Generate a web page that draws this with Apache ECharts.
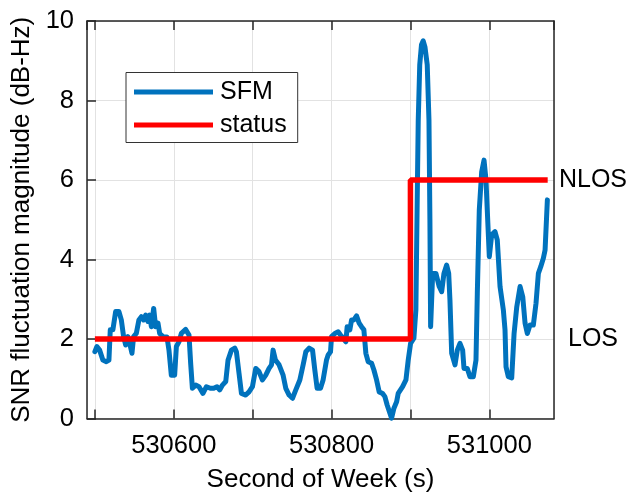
<!DOCTYPE html>
<html>
<head>
<meta charset="utf-8">
<script src="https://cdn.jsdelivr.net/npm/echarts@6.0.0/dist/echarts.min.js"></script>
<style>
html,body{margin:0;padding:0;background:#fff;}
#chart{width:630px;height:492px;}
</style>
</head>
<body>
<div id="chart"></div>
<script>
// ---- data ----
var sfmTime = [530500, 530502.5, 530506, 530510.1, 530514.5, 530517.8, 530519.5, 530522.8, 530526.3, 530530.5,
  530533.5, 530536.4, 530539, 530541.9, 530544, 530547, 530549.1, 530552.5, 530555.8, 530558.9,
  530561.8, 530564.3, 530567.3, 530569.4, 530571.6, 530574.5, 530577, 530580, 530582.1, 530586.3,
  530591.4, 530593.9, 530596.9, 530601.1, 530603.3, 530606.6, 530609.6, 530615.1, 530619.3, 530621.4,
  530623.6, 530627.8, 530632, 530637, 530641.4, 530646.4, 530650.6, 530654.8, 530658.2, 530661.7,
  530665.9, 530668.8, 530673.1, 530677.3, 530679.4, 530682.7, 530685.8, 530691.2, 530695.4, 530699.7,
  530703.9, 530708.1, 530712.4, 530716.6, 530720.8, 530723.9, 530725.9, 530728.9, 530733.5, 530738.6,
  530742, 530746.2, 530750.5, 530754.7, 530759.8, 530764, 530767.4, 530771.6, 530775.9, 530778.8,
  530781.7, 530786, 530789.3, 530793.6, 530795.7, 530798.7, 530800, 530804.2, 530808.4, 530811.4,
  530814.7, 530818.1, 530819.8, 530823.2, 530825.4, 530828.3, 530831.7, 530835, 530838, 530841,
  530843.5, 530846.4, 530850.8, 530853.7, 530857.1, 530860.4, 530864.7, 530867.6, 530870.5, 530874,
  530876.1, 530879.1, 530882.5, 530884.5, 530890.1, 530894.3, 530897.2, 530900.2, 530904.4, 530906.9,
  530908.6, 530909.9, 530911.8, 530914, 530916.2, 530918.4, 530921.3, 530923.5, 530924.7, 530925.6,
  530928.2, 530932.3, 530936.5, 530939.6, 530942.5, 530945.9, 530948.5, 530950.1, 530952.3, 530956.5,
  530959.4, 530962.8, 530966.2, 530967.9, 530972.1, 530975.5, 530979.7, 530983.1, 530984.8, 530987.3,
  530990.3, 530993.3, 530995.8, 530997.4, 531000, 531003, 531007.2, 531010.1, 531013.6, 531017.8,
  531019.9, 531021.2, 531024.1, 531028.4, 531031.4, 531034.8, 531039, 531042.4, 531045.3, 531048.2,
  531051.6, 531055.8, 531059.2, 531062.2, 531065.2, 531068.5, 531070.7, 531073.6];
var sfmValue = [1.68, 1.81, 1.72, 1.47, 1.43, 1.47, 2.23, 2.23, 2.69, 2.69,
  2.48, 2.06, 1.85, 2.06, 1.9, 1.64, 2.06, 2.14, 2.48, 2.56,
  2.48, 2.6, 2.44, 2.6, 2.31, 2.77, 2.31, 2.4, 2.14, 2.06,
  2.05, 1.72, 1.09, 1.09, 1.81, 1.93, 2.14, 2.24, 2.1, 1.39,
  0.76, 0.84, 0.8, 0.63, 0.8, 0.76, 0.76, 0.8, 0.72, 0.84,
  0.93, 1.47, 1.72, 1.77, 1.68, 1.14, 0.63, 0.59, 0.67, 0.8,
  1.26, 1.18, 0.97, 1.09, 1.26, 1.35, 1.72, 1.47, 1.35, 1.09,
  0.76, 0.59, 0.51, 0.72, 0.97, 1.35, 1.68, 1.77, 1.72, 1.22,
  0.76, 0.76, 0.97, 1.47, 1.6, 1.68, 2.06, 2.14, 2.18, 2.1,
  2.02, 1.93, 2.31, 2.23, 2.48, 2.48, 2.58, 2.4, 2.31, 2.23,
  1.64, 1.43, 1.39, 1.22, 0.97, 0.67, 0.63, 0.55, 0.34, 0.13,
  0.01, 0.26, 0.42, 0.63, 0.8, 0.97, 1.47, 1.89, 2.02, 2.73,
  5.5, 7.5, 8.9, 9.4, 9.5, 9.35, 8.9, 7.5, 5.0, 2.31,
  3.65, 3.65, 3.32, 3.19, 3.65, 3.86, 3.65, 2.98, 1.64, 1.35,
  1.72, 1.89, 1.72, 1.26, 1.26, 1.05, 1.05, 1.47, 3.15, 5.25,
  6.2, 6.5, 6.0, 5.25, 4.07, 4.62, 4.7, 4.49, 3.32, 2.73,
  2.23, 1.3, 1.05, 1.02, 2.14, 2.81, 3.32, 3.06, 2.4, 2.14,
  2.35, 2.35, 2.9, 3.65, 3.82, 4.03, 4.24, 5.5];
var statusTime = [530500, 530900, 530900, 531074];
var statusValue = [2, 2, 6, 6];
var xTickLabels = [530600, 530800, 531000];
var yRightLabels = {2: 'LOS', 6: 'NLOS'};
var seriesNames = ['SFM', 'status'];
var xTitle = 'Second of Week (s)';
var yTitle = 'SNR fluctuation magnitude (dB-Hz)';

// ---- build ----
function zip(a, b) {
  var out = [];
  var n = Math.min(a.length, b.length);
  for (var i = 0; i < n; i++) out.push([a[i], b[i]]);
  return out;
}
var FONT = "'Liberation Sans', Arial, sans-serif";
var INK = '#262626';
var xMin = 530490, xMax = 531082;

var chart = echarts.init(document.getElementById('chart'), null, {renderer: 'canvas'});
chart.setOption({
  animation: false,
  backgroundColor: '#fff',
  textStyle: {fontFamily: FONT},
  grid: {left: 87, right: 76, top: 21, bottom: 73.5, containLabel: false, outerBoundsMode: 'none'},
  legend: {
    left: 126, top: 72.5, orient: 'vertical',
    data: [{name: seriesNames[0], icon: 'rect'}, {name: seriesNames[1], icon: 'rect'}],
    itemWidth: 79, itemHeight: 5, itemGap: 8,
    padding: [7, 11, 5, 8],
    backgroundColor: '#fff', borderColor: '#333', borderWidth: 1,
    selectedMode: false,
    textStyle: {fontSize: 25, color: '#000', fontFamily: FONT, padding: [0, 0, 0, 2]}
  },
  xAxis: [{
    type: 'value', position: 'bottom', min: xMin, max: xMax, splitNumber: 6,
    axisLine: {show: true, onZero: false, lineStyle: {color: INK, width: 1.5}},
    axisTick: {show: true, inside: true, length: 9, lineStyle: {color: INK, width: 1.5}},
    axisLabel: {
      show: true, margin: 14, fontSize: 25.5, color: '#000', fontFamily: FONT,
      showMinLabel: false, showMaxLabel: false,
      formatter: function (v) { return xTickLabels.indexOf(Math.round(v)) >= 0 ? String(Math.round(v)) : ''; }
    },
    splitLine: {show: true, lineStyle: {color: '#e2e2e2', width: 1}},
    name: xTitle, nameLocation: 'middle', nameGap: 48,
    nameTextStyle: {fontSize: 26, color: '#000', fontFamily: FONT}
  }, {
    type: 'value', position: 'top', min: xMin, max: xMax, splitNumber: 6,
    axisLine: {show: true, onZero: false, lineStyle: {color: INK, width: 1.5}},
    axisTick: {show: true, inside: true, length: 9, lineStyle: {color: INK, width: 1.5}},
    axisLabel: {show: false},
    splitLine: {show: false}
  }],
  yAxis: [{
    type: 'value', position: 'left', min: 0, max: 10, interval: 2,
    axisLine: {show: true, onZero: false, lineStyle: {color: INK, width: 1.5}},
    axisTick: {show: true, inside: true, length: 9, lineStyle: {color: INK, width: 1.5}},
    axisLabel: {margin: 13, fontSize: 25.5, color: '#000', fontFamily: FONT},
    splitLine: {show: true, lineStyle: {color: '#e2e2e2', width: 1}},
    name: yTitle, nameLocation: 'middle', nameGap: 52, nameRotate: 90,
    nameTextStyle: {fontSize: 26, color: '#000', fontFamily: FONT}
  }, {
    type: 'value', position: 'right', min: 0, max: 10, interval: 2,
    axisLine: {show: true, onZero: false, lineStyle: {color: INK, width: 1.5}},
    axisTick: {show: false},
    axisLabel: {
      margin: 39, align: 'center', fontSize: 25, color: '#000', fontFamily: FONT,
      formatter: function (v) { return yRightLabels[Math.round(v)] || ''; }
    },
    splitLine: {show: false}
  }],
  series: [{
    name: seriesNames[0], type: 'line', xAxisIndex: 0, yAxisIndex: 0,
    data: zip(sfmTime, sfmValue), showSymbol: false, symbol: 'none',
    lineStyle: {color: '#0072BD', width: 5, join: 'round', cap: 'round'},
    itemStyle: {color: '#0072BD'}, z: 2
  }, {
    name: seriesNames[1], type: 'line', xAxisIndex: 0, yAxisIndex: 0,
    data: zip(statusTime, statusValue), showSymbol: false, symbol: 'none',
    lineStyle: {color: '#FF0000', width: 5.5},
    itemStyle: {color: '#FF0000'}, z: 3
  }]
});
</script>
</body>
</html>
